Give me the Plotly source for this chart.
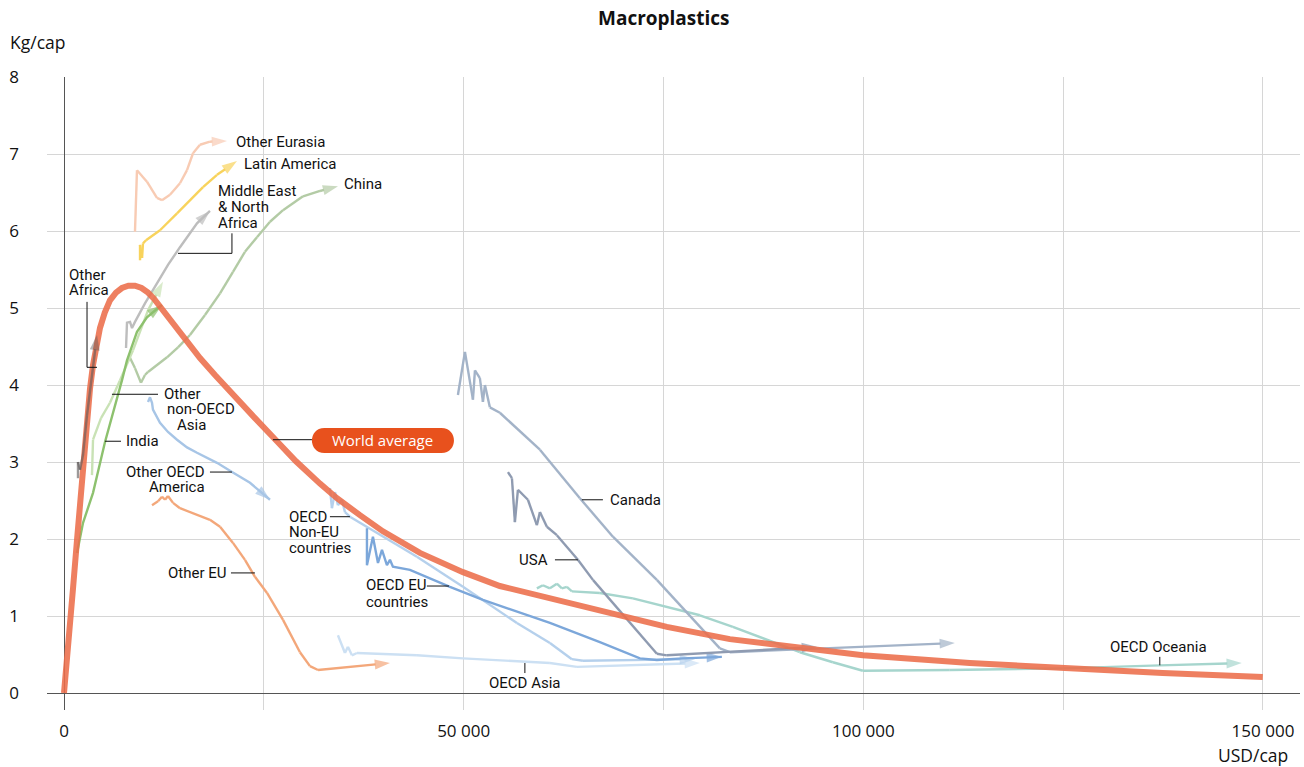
import plotly.graph_objects as go

# ---------------- data (USD/cap, Kg/cap) ----------------
world_x = [0, 250, 500, 750, 1130, 1630, 2000, 2380, 2880, 3250, 3630, 4060, 4500, 5100, 5750, 6500,
           7250, 8060, 8880, 9700, 10510, 11250, 12010, 12760, 13510, 14880, 17010, 18890, 21140,
           23890, 26640, 29020, 32020, 34150, 37020, 39900, 44530, 49910, 54530, 60790, 67040,
           75420, 83300, 92060, 99940, 113320, 124950, 137460, 149970]
world_y = [0, 0.27, 0.58, 0.88, 1.36, 1.99, 2.47, 2.95, 3.55, 3.95, 4.26, 4.52, 4.74, 4.94, 5.10, 5.20,
           5.26, 5.29, 5.29, 5.26, 5.20, 5.12, 5.02, 4.92, 4.81, 4.62, 4.35, 4.13, 3.87,
           3.57, 3.27, 3.01, 2.72, 2.53, 2.31, 2.10, 1.82, 1.57, 1.39, 1.23, 1.09,
           0.86, 0.70, 0.58, 0.49, 0.39, 0.32, 0.26, 0.21]

eurasia_x = [8880, 9010, 9130, 10380, 11630, 12260, 13260, 14510, 15390, 16140, 17010, 18260, 20390]
eurasia_y = [5.99, 6.40, 6.79, 6.64, 6.43, 6.40, 6.47, 6.62, 6.79, 7.01, 7.12, 7.16, 7.17]

latam_x = [9510, 9510, 9760, 9880, 10260, 12010, 14140, 15760, 17390, 19140, 21640]
latam_y = [5.62, 5.82, 5.65, 5.84, 5.88, 6.01, 6.23, 6.40, 6.57, 6.73, 6.91]

mena_x = [7760, 7880, 8260, 8510, 8880, 10130, 11630, 13010, 14510, 16640, 18260]
mena_y = [4.48, 4.81, 4.82, 4.74, 4.82, 5.06, 5.32, 5.56, 5.79, 6.10, 6.26]

china_x = [8130, 8880, 9630, 10130, 10510, 11630, 12890, 14260, 15760, 17640, 19520, 21140,
           22640, 24140, 25770, 27400, 29900, 32030, 34280]
china_y = [4.38, 4.22, 4.03, 4.13, 4.17, 4.26, 4.36, 4.49, 4.65, 4.91, 5.19, 5.47,
           5.73, 5.92, 6.12, 6.27, 6.45, 6.52, 6.58]

oafrica_x = [1750, 1750, 2000, 2380, 2880, 3380, 3750, 4130]
oafrica_y = [2.79, 3.00, 2.90, 3.09, 3.61, 4.06, 4.39, 4.65]

india_x = [1630, 2380, 3630, 5130, 7250, 7880, 9130, 10380, 11760, 12260]
india_y = [1.82, 2.21, 2.60, 3.26, 4.06, 4.32, 4.69, 4.88, 5.00, 5.04]

onoecd_x = [3500, 3630, 4630, 5750, 7000, 8630, 10510, 12380]
onoecd_y = [2.83, 3.29, 3.57, 3.77, 4.06, 4.45, 4.97, 5.34]

ooecdam_x = [10510, 10760, 11010, 11130, 12010, 13010, 14140, 15390, 16640, 17890, 19140,
             21020, 23270, 25770]
ooecdam_y = [3.78, 3.84, 3.77, 3.68, 3.51, 3.39, 3.29, 3.19, 3.12, 3.05, 2.99,
             2.87, 2.73, 2.51]

oeu_x = [11010, 11760, 12260, 12640, 13010, 13640, 14510, 15760, 17010, 18260, 19520, 21140,
         22640, 23890, 25400, 27400, 29520, 30770, 31780, 35780, 40780]
oeu_y = [2.44, 2.49, 2.55, 2.51, 2.56, 2.47, 2.40, 2.35, 2.31, 2.25, 2.16, 1.95,
         1.73, 1.51, 1.30, 0.95, 0.53, 0.35, 0.30, 0.34, 0.39]

nonEU_x = [33270, 33520, 33900, 34270, 34770, 35150, 35770, 39900, 44150, 49910, 56660, 60790,
           63540, 64920, 78930]
nonEU_y = [2.66, 2.40, 2.61, 2.44, 2.51, 2.35, 2.29, 2.03, 1.77, 1.38, 0.91, 0.65,
           0.44, 0.42, 0.44]

eu_x = [37900, 37900, 38650, 39280, 39780, 40400, 40780, 41150, 43280, 48280, 52410, 60790,
        67040, 72050, 74170, 77420, 82300]
eu_y = [2.14, 1.66, 2.03, 1.69, 1.86, 1.66, 1.73, 1.64, 1.60, 1.38, 1.21, 0.91,
        0.66, 0.45, 0.43, 0.45, 0.47]

asia_x = [34270, 35150, 35520, 36020, 36650, 44150, 49910, 57910, 60790, 64170, 79550]
asia_y = [0.75, 0.52, 0.60, 0.49, 0.52, 0.49, 0.45, 0.40, 0.39, 0.34, 0.39]

canada_x = [49280, 50160, 51160, 51410, 52030, 52410, 52660, 53280, 54530, 55790, 59540, 64540,
            68670, 74170, 77920, 82050, 83300, 111450]
canada_y = [3.87, 4.43, 3.81, 4.19, 4.09, 3.78, 4.00, 3.71, 3.64, 3.52, 3.16, 2.53,
            2.03, 1.47, 1.04, 0.58, 0.53, 0.65]

usa_x = [55540, 56040, 56410, 56790, 58040, 59160, 59540, 60410, 61660, 64290, 66170, 74170,
         75420, 94190]
usa_y = [2.87, 2.79, 2.22, 2.64, 2.51, 2.18, 2.35, 2.16, 2.05, 1.73, 1.47, 0.51,
         0.49, 0.60]

oceania_x = [59160, 59910, 60790, 61660, 62290, 62910, 63540, 67040, 71170, 75420, 79550, 83680,
             87930, 92060, 96190, 99940, 110820, 124950, 137090, 147340]
oceania_y = [1.36, 1.40, 1.36, 1.42, 1.36, 1.38, 1.32, 1.30, 1.23, 1.12, 1.01, 0.86,
             0.69, 0.53, 0.40, 0.29, 0.30, 0.32, 0.36, 0.39]

x_tickvals = [0, 50000, 100000, 150000]
x_ticktext = ["0", "50 000", "100 000", "150 000"]
y_tickvals = [0, 1, 2, 3, 4, 5, 6, 7, 8]

series = [
    ("Other Eurasia", eurasia_x, eurasia_y, "#F8CBB3"),
    ("Latin America", latam_x, latam_y, "#F8D35C"),
    ("Middle East & North Africa", mena_x, mena_y, "#BDBDBD"),
    ("China", china_x, china_y, "#B3CBA5"),
    ("Other non-OECD Asia", onoecd_x, onoecd_y, "#C9E2B5"),
    ("India", india_x, india_y, "#8DC16E"),
    ("Other OECD America", ooecdam_x, ooecdam_y, "#A7C5E6"),
    ("Other EU", oeu_x, oeu_y, "#F3A77A"),
    ("OECD Asia", asia_x, asia_y, "#CCE0F3"),
    ("OECD Non-EU countries", nonEU_x, nonEU_y, "#B5D0EC"),
    ("OECD EU countries", eu_x, eu_y, "#7CA7DA"),
    ("OECD Oceania", oceania_x, oceania_y, "#A6D5CD"),
    ("Canada", canada_x, canada_y, "#A3B3C8"),
    ("USA", usa_x, usa_y, "#8F9BB1"),
]
on_top = [
    ("Other Africa", oafrica_x, oafrica_y, "rgba(95,90,90,0.62)"),
]

# labels: (text, x, y, xanchor)
LBL = "Roboto"
labels = [
    ("Other Eurasia", 21260, 7.16, "left"),
    ("Latin America", 22260, 6.87, "left"),
    ("Middle East", 19010, 6.52, "left"),
    ("& North", 19010, 6.31, "left"),
    ("Africa", 19010, 6.10, "left"),
    ("China", 34770, 6.61, "left"),
    ("Other", 375, 5.43, "left"),
    ("Africa", 375, 5.23, "left"),
    ("Other", 12260, 3.89, "left"),
    ("non-OECD", 12640, 3.69, "left"),
    ("Asia", 13890, 3.48, "left"),
    ("India", 7500, 3.27, "left"),
    ("Other OECD", 17890, 2.87, "right"),
    ("America", 17890, 2.67, "right"),
    ("Other EU", 20640, 1.56, "right"),
    ("OECD", 27900, 2.29, "left"),
    ("Non-EU", 27900, 2.09, "left"),
    ("countries", 27900, 1.89, "left"),
    ("OECD EU", 37520, 1.40, "left"),
    ("countries", 37520, 1.18, "left"),
    ("Canada", 68050, 2.51, "left"),
    ("USA", 60790, 1.73, "right"),
    ("OECD Asia", 57660, 0.13, "center"),
    ("OECD Oceania", 136950, 0.60, "center"),
]

leaders = [
    [(14260, 5.71), (21010, 5.71), (21010, 5.97)],
    [(2880, 5.08), (2880, 4.23), (4130, 4.23)],
    [(6000, 3.88), (11760, 3.88)],
    [(5130, 3.27), (7130, 3.27)],
    [(26140, 3.29), (31020, 3.29)],
    [(18260, 2.87), (21010, 2.87)],
    [(20890, 1.56), (23890, 1.56)],
    [(33270, 2.29), (35770, 2.29)],
    [(45400, 1.39), (48160, 1.39)],
    [(64790, 2.51), (67420, 2.51)],
    [(61420, 1.73), (64290, 1.73)],
    [(57660, 0.39), (57660, 0.26)],
    [(137090, 0.47), (137090, 0.36)],
]

fig = go.Figure()


def add_series(name, xs, ys, col):
    n = len(xs)
    fig.add_trace(go.Scatter(
        x=xs, y=ys, mode="lines+markers", name=name,
        line=dict(color=col, width=2.4),
        marker=dict(symbol="arrow", angleref="previous", color=col,
                    size=[0] * (n - 1) + [16], line=dict(width=0)),
        hoverinfo="skip", showlegend=False))


for name, xs, ys, col in series:
    add_series(name, xs, ys, col)

fig.add_trace(go.Scatter(
    x=world_x, y=world_y, mode="lines", name="World average",
    line=dict(color="#EC6E4B", width=6),
    opacity=0.88, hoverinfo="skip", showlegend=False))

for name, xs, ys, col in on_top:
    add_series(name, xs, ys, col)

shapes = []
for pts in leaders:
    d = "M " + " L ".join(f"{px},{py}" for px, py in pts)
    shapes.append(dict(type="path", path=d, xref="x", yref="y",
                       line=dict(color="#111111", width=1)))

# World average pill
shapes.append(dict(type="path", xref="x", yref="y", xsizemode="pixel", ysizemode="pixel",
                   xanchor=39900, yanchor=3.28,
                   path="M -58.5,-12.5 L 58.5,-12.5 C 75.2,-12.5 75.2,12.5 58.5,12.5 "
                        "L -58.5,12.5 C -75.2,12.5 -75.2,-12.5 -58.5,-12.5 Z",
                   fillcolor="#E8511D", line=dict(width=0), layer="above"))

annotations = []
for text, x, y, anc in labels:
    annotations.append(dict(text=text, x=x, y=y, xref="x", yref="y", xanchor=anc,
                            yanchor="middle", showarrow=False,
                            font=dict(family=LBL, size=15, color="#111111")))

annotations.append(dict(text="World average", x=39900, y=3.28, xref="x", yref="y",
                        showarrow=False, font=dict(family="Open Sans", size=15, color="white")))
annotations.append(dict(text="<b>Macroplastics</b>", x=0.4928, y=1.0932, xref="paper", yref="paper",
                        xanchor="center", yanchor="middle", showarrow=False,
                        font=dict(family="Open Sans", size=19, color="#111111")))
annotations.append(dict(text="Kg/cap", x=-0.0311, y=1.0553, xref="paper", yref="paper",
                        xanchor="left", yanchor="middle", showarrow=False,
                        font=dict(family="Open Sans", size=17.5, color="#111111")))
annotations.append(dict(text="USD/cap", x=0.992, y=-0.0711, xref="paper", yref="paper",
                        xanchor="right", yanchor="middle", showarrow=False,
                        font=dict(family="Open Sans", size=17.5, color="#111111")))

fig.update_layout(
    width=1304, height=767,
    margin=dict(l=47, r=4, t=77, b=57, autoexpand=False),
    paper_bgcolor="white", plot_bgcolor="white",
    shapes=shapes, annotations=annotations,
    font=dict(family="Open Sans", color="#111111"),
    xaxis=dict(range=[-2127, 154630], tickvals=x_tickvals, ticktext=x_ticktext,
               showgrid=True, gridcolor="#D6D6D6", gridwidth=1.3, automargin=False,
               minor=dict(tick0=0, dtick=25000, showgrid=True, gridcolor="#D6D6D6", gridwidth=1.3),
               zeroline=True, zerolinecolor="#555555", zerolinewidth=1.3,
               showline=False, ticks="", ticklabelstandoff=9,
               tickfont=dict(family="Open Sans", size=17, color="#111111")),
    yaxis=dict(range=[-0.22, 8.0], tickvals=y_tickvals, automargin=False,
               showgrid=True, gridcolor="#D6D6D6", gridwidth=1.3,
               zeroline=True, zerolinecolor="#555555", zerolinewidth=1.3,
               showline=False, ticks="", ticklabelstandoff=27,
               tickfont=dict(family="Open Sans", size=17, color="#111111")),
)

fig.write_html("out.html", config={"displayModeBar": False},
               post_script="document.body.style.margin='0';")
